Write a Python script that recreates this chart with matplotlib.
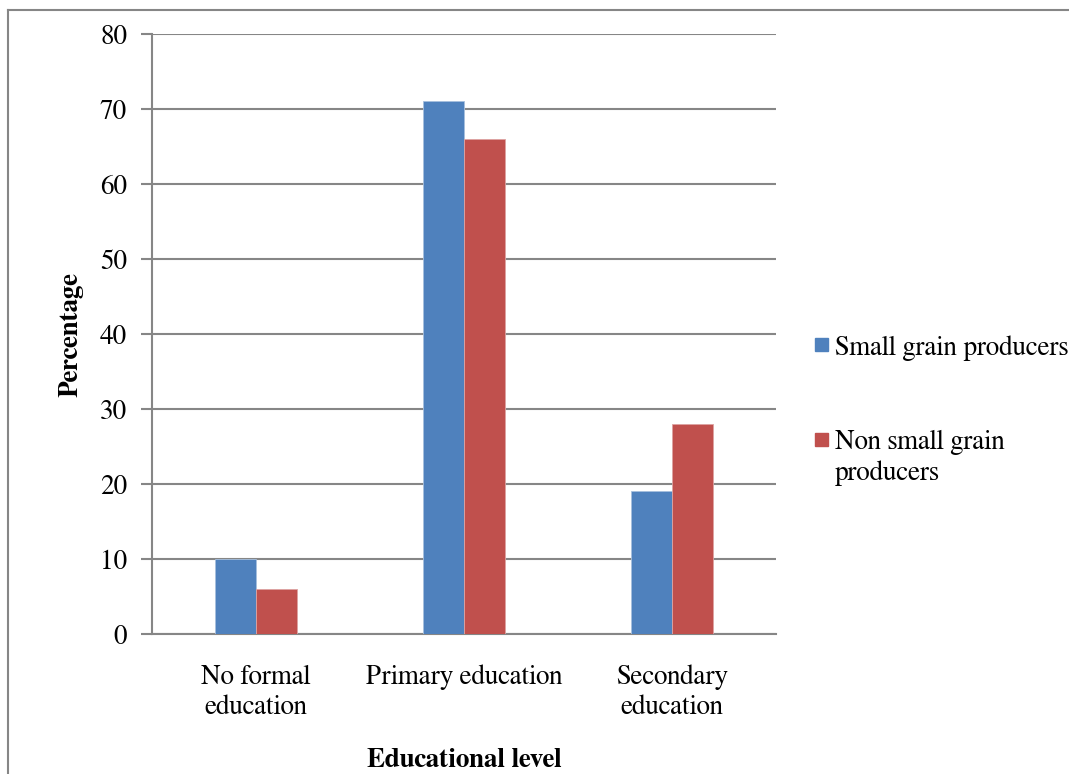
import matplotlib.pyplot as plt
import numpy as np
from matplotlib.patches import Rectangle

# Education level of respondents (%)
categories = ["No formal\neducation", "Primary education", "Secondary\neducation"]
small_grain = [10, 71, 19]
non_small_grain = [6, 66, 28]
series_names = ["Small grain producers", "Non small grain\nproducers"]
colors = ["#4F81BD", "#C0504D"]
grid_color = "#868686"

plt.rcParams['font.family'] = 'serif'
plt.rcParams['font.serif'] = ['FreeSerif', 'Liberation Serif', 'DejaVu Serif']
fs = 19.5

fig = plt.figure(figsize=(10.69, 7.74), dpi=100)
ax = fig.add_axes([0.1422, 0.1809, 0.5837, 0.7752])

x = np.arange(len(categories))
w = 0.197
ax.bar(x - w / 2, small_grain, w, color=colors[0], edgecolor="#A7C0DE", linewidth=0.6, zorder=3)
ax.bar(x + w / 2, non_small_grain, w, color=colors[1], edgecolor="#DDA3A2", linewidth=0.6, zorder=3)

ax.set_xlim(-0.5, 2.5)
ax.set_ylim(0, 80)
ax.set_yticks(range(0, 81, 10))
ax.set_xticks(x)
ax.set_xticklabels(categories, fontsize=fs, linespacing=1.25)
ax.tick_params(axis='y', labelsize=fs, length=8, width=1.5, color=grid_color, pad=10)
ax.tick_params(axis='x', length=0, pad=22)
ax.yaxis.grid(True, color=grid_color, linewidth=1.5, zorder=0)
ax.set_axisbelow(True)

for side in ("top", "right"):
    ax.spines[side].set_visible(False)
for side in ("left", "bottom"):
    ax.spines[side].set_color(grid_color)
    ax.spines[side].set_linewidth(1.5)

ax.set_ylabel("Percentage", fontsize=fs, fontweight="bold", labelpad=12)
ax.set_xlabel("Educational level", fontsize=fs, fontweight="bold", labelpad=20)

# legend drawn by hand so the swatch sits on the first text line
legend_y = [0.555, 0.432]
for name, col, ly in zip(series_names, colors, legend_y):
    fig.add_artist(Rectangle((0.7625, ly - 0.008), 0.0122, 0.0168,
                             transform=fig.transFigure, color=col))
    fig.text(0.781, ly + 0.012, name, fontsize=fs, va="top", linespacing=1.25)

# outer chart border (left and top only are in frame)
fig.add_artist(plt.Line2D([0.0075, 0.0075], [0, 0.987], color=grid_color,
                          linewidth=1.5, transform=fig.transFigure))
fig.add_artist(plt.Line2D([0.0075, 1.0], [0.987, 0.987], color=grid_color,
                          linewidth=1.5, transform=fig.transFigure))

fig.savefig("out.png", dpi=100)
